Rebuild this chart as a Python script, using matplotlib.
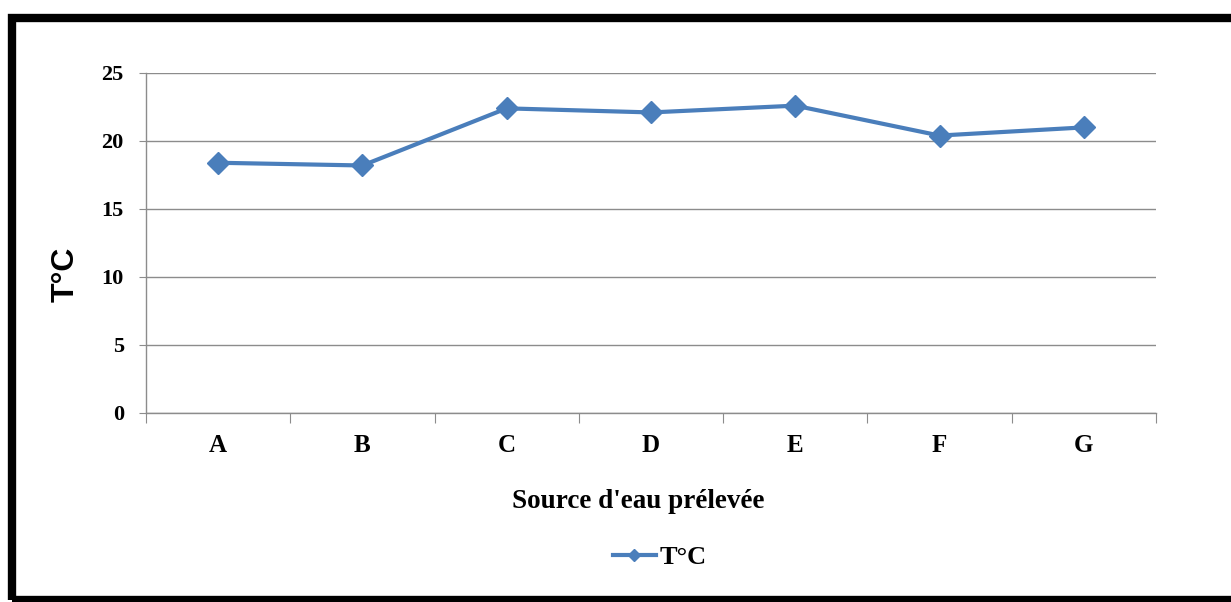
import matplotlib.pyplot as plt
from matplotlib.patches import Rectangle
import numpy as np

sources = ['A', 'B', 'C', 'D', 'E', 'F', 'G']
temp = [18.4, 18.2, 22.4, 22.1, 22.6, 20.4, 21.0]
y_ticks = [0, 5, 10, 15, 20, 25]

W, H = 1231, 602
fig = plt.figure(figsize=(W / 100, H / 100), dpi=100)
ax = fig.add_axes([146 / W, 1 - 413 / H, (1156 - 146) / W, (413 - 73) / H])

serif_bold = dict(family='Liberation Serif', weight='bold')
blue = '#4A7EBB'
grey = '#8C8C8C'

x = np.arange(len(sources))
ax.plot(x, temp, color=blue, lw=3, marker='D', ms=11, label='T°C', zorder=3)

ax.set_xlim(-0.5, len(sources) - 0.5)
ax.set_ylim(0, 25)
ax.set_yticks(y_ticks)
ax.set_yticklabels([str(v) for v in y_ticks], fontsize=16, **serif_bold)
ax.yaxis.grid(True, color=grey, lw=1)
ax.set_axisbelow(True)

# ticks on category boundaries, labels centred on categories
ax.set_xticks(np.arange(-0.5, len(sources)), minor=False)
ax.set_xticklabels([])
ax.set_xticks(x, minor=True)
ax.set_xticklabels(sources, minor=True, fontsize=18, **serif_bold)
ax.tick_params(axis='x', which='major', length=7, color=grey, direction='out')
ax.tick_params(axis='x', which='minor', length=0, pad=15)
ax.tick_params(axis='y', length=5, color=grey, pad=11)

for s in ['top', 'right']:
    ax.spines[s].set_visible(False)
for s in ['left', 'bottom']:
    ax.spines[s].set_color(grey)
    ax.spines[s].set_linewidth(1)

fig.text(638 / W, 1 - 502 / H, "Source d'eau prélevée", ha='center', va='center',
         fontsize=19.5, **serif_bold)
fig.text(66 / W, 1 - 274 / H, 'T°C', rotation=90, ha='center', va='center',
         fontsize=23, family='Liberation Sans', weight='bold')

leg = fig.legend(loc='center', bbox_to_anchor=(660 / W, 1 - 557 / H), frameon=False,
                 prop=dict(size=19, **serif_bold), handlelength=1.6, handletextpad=0.15,
                 markerscale=0.6)

# outer frame
fig.patches.append(Rectangle((12 / W, 2 / H), 1.2, 1 - 20 / H, transform=fig.transFigure,
                             fill=False, ec='black', lw=6, clip_on=False))

fig.savefig('out.png', dpi=100)
